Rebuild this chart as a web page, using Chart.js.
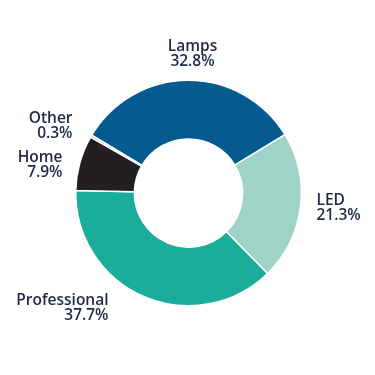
<!DOCTYPE html>
<html>
<head>
<meta charset="utf-8">
<script src="https://cdn.jsdelivr.net/npm/chart.js@4/dist/chart.umd.min.js"></script>
<style>
  html, body { margin: 0; padding: 0; background: #fff; }
  #wrap { width: 375px; height: 375px; }
</style>
</head>
<body>
<div id="wrap"><canvas id="c" width="375" height="375"></canvas></div>
<script>
// --- data ---
const segments = ['Lamps', 'LED', 'Professional', 'Home', 'Other'];
const shares = [32.8, 21.3, 37.7, 7.9, 0.3];
const colors = ['#055a8f', '#9ed3c7', '#1bad9b', '#231f20', '#a6a8ab'];

// label placement relative to doughnut centre: [dx, dy, align]
const labelAnchors = [
  [4, -139, 'center'],
  [128, 15, 'left'],
  [-80, 115, 'right'],
  [-126, -28, 'right'],
  [-116, -67, 'right'],
];

const outsideLabels = {
  id: 'outsideLabels',
  afterDraw(chart) {
    const ctx = chart.ctx;
    const arc = chart.getDatasetMeta(0).data[0];
    const cx = arc.x, cy = arc.y;
    ctx.save();
    ctx.fillStyle = '#1c2a47';
    ctx.font = '600 15.5px "Open Sans"';
    ctx.textBaseline = 'middle';
    segments.forEach((name, i) => {
      const [dx, dy, align] = labelAnchors[i];
      ctx.textAlign = align;
      ctx.fillText(name, cx + dx, cy + dy - 7);
      ctx.fillText(shares[i].toFixed(1) + '%', cx + dx, cy + dy + 7.5);
    });
    ctx.restore();
  }
};

new Chart(document.getElementById('c'), {
  type: 'doughnut',
  data: {
    labels: segments,
    datasets: [{
      data: shares,
      backgroundColor: colors,
      borderColor: '#ffffff',
      borderWidth: 1.5,
    }]
  },
  options: {
    responsive: false,
    animation: false,
    rotation: -59.2,
    cutout: '48%',
    layout: { padding: { left: 75, right: 73, top: 79, bottom: 68 } },
    plugins: {
      legend: { display: false },
      tooltip: { enabled: false },
    }
  },
  plugins: [outsideLabels]
});
</script>
</body>
</html>
